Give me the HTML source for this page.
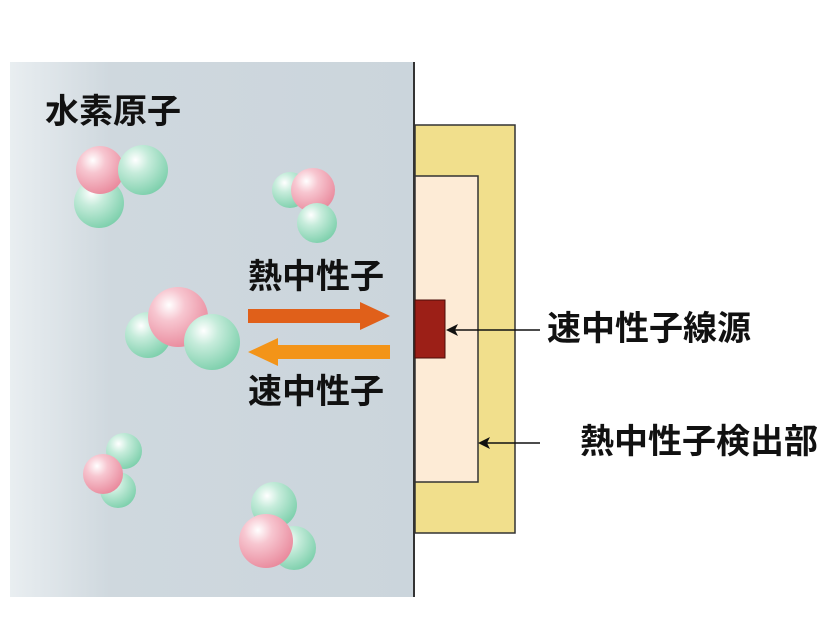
<!DOCTYPE html><html><head><style>
body{margin:0;width:825px;height:641px;background:#fff;position:relative;overflow:hidden;font-family:"Liberation Sans","Noto Sans CJK JP",sans-serif}
.t{position:absolute;font-weight:bold;font-size:34px;color:#111;white-space:nowrap;line-height:1}
</style></head><body>
<svg width="825" height="641" style="position:absolute;left:0;top:0">
<defs>
<linearGradient id="bg" x1="0" x2="1"><stop offset="0" stop-color="#e9eef1"/><stop offset="0.25" stop-color="#cfd8de"/><stop offset="1" stop-color="#cbd5dc"/></linearGradient>
<radialGradient id="p" cx="0.35" cy="0.3" r="0.75"><stop offset="0" stop-color="#fff"/><stop offset="0.35" stop-color="#f7c6d0"/><stop offset="1" stop-color="#e9899c"/></radialGradient>
<radialGradient id="g" cx="0.35" cy="0.3" r="0.75"><stop offset="0" stop-color="#fff"/><stop offset="0.35" stop-color="#c6ecdb"/><stop offset="1" stop-color="#7ccfab"/></radialGradient>
</defs>
<rect x="10" y="62" width="404" height="535" fill="url(#bg)"/>
<line x1="414" y1="62" x2="414" y2="597" stroke="#333" stroke-width="2"/>
<rect x="415" y="125" width="100" height="408" fill="#f1df8c" stroke="#333" stroke-width="1.5"/>
<rect x="415" y="176" width="63" height="306" fill="#fdebd6" stroke="#333" stroke-width="1.5"/>
<rect x="415" y="300" width="30" height="58" fill="#9c1f17" stroke="#4a0d08" stroke-width="1"/>
<line x1="540" y1="330" x2="450" y2="330" stroke="#111" stroke-width="1.5"/>
<polygon points="446,330 458,324 455,330 458,336" fill="#111"/>
<line x1="540" y1="443" x2="482" y2="443" stroke="#111" stroke-width="1.5"/>
<polygon points="478,443 490,437 487,443 490,449" fill="#111"/>
<polygon points="248,309 360,309 360,302 390,316 360,330 360,323 248,323" fill="#e0601a"/>
<polygon points="390,345 278,345 278,338 248,352 278,366 278,359 390,359" fill="#f39418"/>
<circle cx="99" cy="203" r="25" fill="url(#g)"/><circle cx="100" cy="170" r="24" fill="url(#p)"/><circle cx="143" cy="170" r="25" fill="url(#g)"/>
<circle cx="290" cy="190" r="18" fill="url(#g)"/><circle cx="313" cy="190" r="22" fill="url(#p)"/><circle cx="317" cy="223" r="20" fill="url(#g)"/>
<circle cx="148" cy="335" r="23" fill="url(#g)"/><circle cx="178" cy="317" r="30" fill="url(#p)"/><circle cx="212" cy="342" r="28" fill="url(#g)"/>
<circle cx="124" cy="451" r="18" fill="url(#g)"/><circle cx="118" cy="490" r="18" fill="url(#g)"/><circle cx="103" cy="474" r="20" fill="url(#p)"/>
<circle cx="274" cy="505" r="23" fill="url(#g)"/><circle cx="294" cy="548" r="22" fill="url(#g)"/><circle cx="266" cy="541" r="27" fill="url(#p)"/>
</svg>
<div class="t" style="left:45px;top:95px">水素原子</div>
<div class="t" style="left:248px;top:260px">熱中性子</div>
<div class="t" style="left:248px;top:375px">速中性子</div>
<div class="t" style="left:547px;top:312px">速中性子線源</div>
<div class="t" style="left:580px;top:425px">熱中性子検出部</div>
</body></html>
